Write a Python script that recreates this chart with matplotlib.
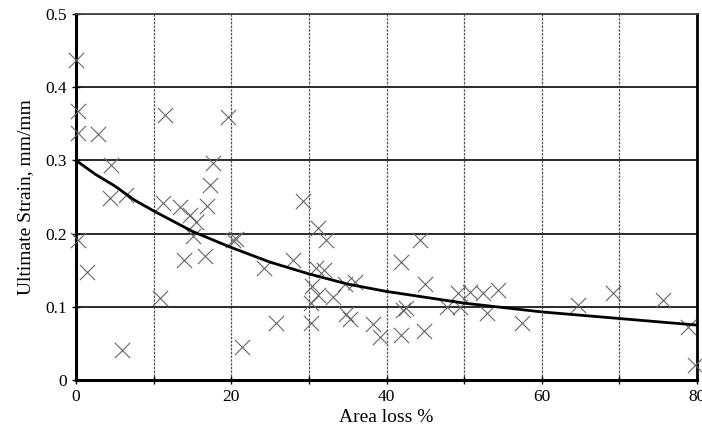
import matplotlib
matplotlib.use('Agg')
import matplotlib.pyplot as plt

# measured points (area loss %, ultimate strain mm/mm)
area_loss = [0.0, 0.3, 0.2, 2.8, 11.5, 19.6, 4.5, 17.6, 4.4, 6.4,
             11.2, 13.4, 14.7, 17.3, 16.9, 15.5, 15.1, 0.3, 1.4, 13.9,
             16.6, 20.2, 20.6, 10.8, 5.9, 21.4, 29.3, 31.2, 32.2, 24.2,
             28.0, 30.9, 32.0, 30.4, 31.2, 33.1, 30.3, 34.7, 36.0, 25.8,
             30.3, 34.8, 35.3, 38.3, 39.1, 41.9, 44.3, 45.0, 42.1, 42.5,
             41.9, 44.8, 47.8, 49.2, 50.8, 52.4, 54.3, 52.9, 57.5, 49.5,
             64.7, 69.2, 75.6, 78.9, 79.8]
strain = [0.437, 0.367, 0.337, 0.336, 0.362, 0.359, 0.294, 0.296, 0.249, 0.253,
          0.242, 0.236, 0.225, 0.266, 0.238, 0.216, 0.197, 0.191, 0.148, 0.164,
          0.169, 0.191, 0.193, 0.112, 0.041, 0.045, 0.245, 0.208, 0.191, 0.153,
          0.164, 0.153, 0.150, 0.128, 0.116, 0.113, 0.105, 0.131, 0.134, 0.078,
          0.078, 0.090, 0.083, 0.077, 0.059, 0.161, 0.191, 0.131, 0.096, 0.098,
          0.061, 0.067, 0.100, 0.119, 0.120, 0.119, 0.123, 0.092, 0.078, 0.100,
          0.102, 0.119, 0.109, 0.072, 0.020]

# fitted trend curve
curve_x = [0, 2.5, 5, 7.5, 10, 15, 20, 25, 30, 35, 40, 50, 60, 70, 80]
curve_y = [0.300, 0.281, 0.265, 0.246, 0.231, 0.203, 0.181, 0.161, 0.145,
           0.131, 0.121, 0.105, 0.093, 0.084, 0.075]

plt.rcParams['font.family'] = ['Liberation Serif', 'DejaVu Serif']

fig = plt.figure(figsize=(7.02, 4.42), dpi=100)
ax = fig.add_axes([76 / 702, 62 / 442, 621 / 702, 366 / 442])

ax.scatter(area_loss, strain, marker='x', s=120, color='#666666',
           linewidths=0.8, zorder=3, clip_on=False)
ax.plot(curve_x, curve_y, color='black', linewidth=2.0, zorder=4)

ax.set_xlim(0, 80)
ax.set_ylim(0, 0.5)
ax.set_xticks([0, 20, 40, 60, 80])
ax.set_xticks(range(0, 81, 10), minor=True)
ax.set_yticks([0, 0.1, 0.2, 0.3, 0.4, 0.5])
ax.set_yticklabels(['0', '0.1', '0.2', '0.3', '0.4', '0.5'])

ax.grid(True, which='both', axis='x', color='#555555', linewidth=0.9, linestyle=(0, (2, 1)))
ax.grid(True, axis='y', color='#2a2a2a', linewidth=1.4)

for side in ['left', 'bottom']:
    ax.spines[side].set_linewidth(2.2)
ax.spines['right'].set_linewidth(2.0)
ax.spines['top'].set_linewidth(1.3)
ax.spines['top'].set_color('#444444')

ax.tick_params(which='both', direction='inout', length=6, width=1, labelsize=12.5)
ax.set_axisbelow(True)

ax.set_xlabel('Area loss %', fontsize=14, labelpad=3)
ax.set_ylabel('Ultimate Strain, mm/mm', fontsize=14, labelpad=8)

fig.savefig('out.png', dpi=100)
